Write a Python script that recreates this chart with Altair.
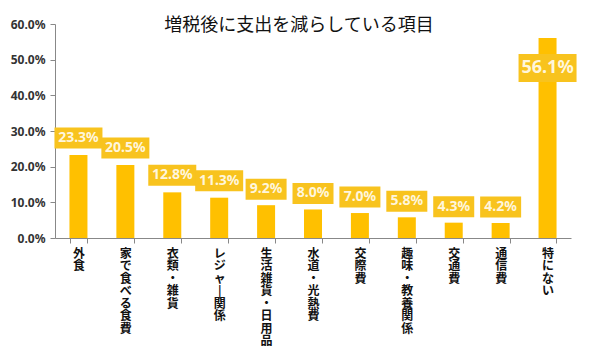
import altair as alt
import pandas as pd

categories = ["外食", "家で食べる食費", "衣類・雑貨", "レジャー関係", "生活雑貨・日用品",
              "水道・光熱費", "交際費", "趣味・教養関係", "交通費", "通信費", "特にない"]
values = [0.233, 0.205, 0.128, 0.113, 0.092, 0.080, 0.070, 0.058, 0.043, 0.042, 0.561]

df = pd.DataFrame({"cat": categories, "val": values})
df["label"] = df["val"].map(lambda v: f"{v*100:.1f}%")
df["kind"] = ["n5" if (v < 0.5 and v >= 0.1) else ("n4" if v < 0.1 else "big") for v in values]

BAR = "#FFC000"
BOX = "#F8C31E"
TXT = "#FFF6DC"

x = alt.X("cat:N", sort=categories, title=None,
          scale=alt.Scale(paddingInner=0.62, paddingOuter=0.31),
          axis=alt.Axis(labelAngle=0, tickBand="extent", tickSize=5, tickColor="#888888",
                        domainColor="#888888", labelFont="Noto Sans CJK JP", labelFontWeight="bold",
                        labelFontSize=12, labelLineHeight=12.5, labelColor="#111111",
                        labelBaseline="top", labelPadding=5, labelLimit=0,
                        labelExpr="split(replace(datum.label, 'ー', '|'), '')"))
y = alt.Y("val:Q", title=None,
          scale=alt.Scale(domain=[0, 0.6], nice=False),
          axis=alt.Axis(format=".1%", values=[0, 0.1, 0.2, 0.3, 0.4, 0.5, 0.6], grid=False,
                        tickSize=5, tickColor="#888888", domainColor="#888888",
                        labelFont="Noto Sans", labelFontWeight="bold", labelFontSize=12,
                        labelColor="#333333", labelPadding=5))

bars = alt.Chart(df).mark_bar(color=BAR, size=18).encode(x=x, y=y)

def box(kind, w, h, off):
    return alt.Chart(df).transform_filter(alt.datum.kind == kind).mark_rect(
        color=BOX, width=w, height=h, yOffset=off).encode(x=x, y=y)

def lab(kind, fs, off):
    return alt.Chart(df).transform_filter(alt.datum.kind == kind).mark_text(
        color=TXT, font="Noto Sans", fontWeight="bold", fontSize=fs, yOffset=off,
        baseline="middle").encode(x=x, y=y, text="label:N")

chart = alt.layer(
    bars,
    box("n5", 48, 21, -17), box("n4", 41, 21, -16), box("big", 58, 28, 30),
    lab("n5", 14, -17), lab("n4", 14, -16), lab("big", 18, 30),
).properties(
    width=516, height=214,
    title=alt.TitleParams("増税後に支出を減らしている項目", font="Noto Sans CJK JP",
                          fontSize=18, fontWeight="normal", color="#111111",
                          anchor="middle", offset=-17, dx=-14),
    autosize=alt.AutoSizeParams(type="none"),
    padding={"left": 47, "top": 16, "right": 27, "bottom": 110},
).configure_view(stroke=None).configure_axis(labelFlush=False)

chart.save("out.html", embed_options={"renderer": "svg", "actions": False})
